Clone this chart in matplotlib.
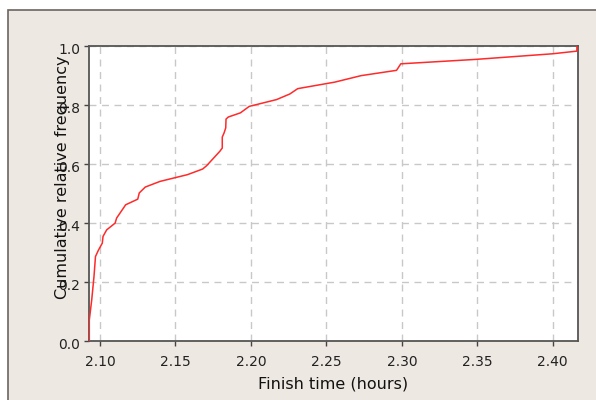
import matplotlib
matplotlib.use("Agg")
import matplotlib.pyplot as plt
from matplotlib.patches import Rectangle
from matplotlib.transforms import ScaledTranslation

# Finish times (hours) and cumulative relative frequency
finish_time = [2.0929, 2.0929, 2.0945, 2.0960, 2.0970, 2.0990, 2.1015, 2.1020,
               2.1044, 2.1100, 2.1110, 2.1170, 2.1250, 2.1260, 2.1300, 2.1397,
               2.1508, 2.1580, 2.1680, 2.1706, 2.1794, 2.1810, 2.1810, 2.1822,
               2.1833, 2.1835, 2.1850, 2.1930, 2.1989, 2.2170, 2.2258, 2.2310,
               2.2555, 2.2730, 2.2965, 2.2993, 2.3490, 2.4000, 2.4160, 2.4160]
cum_freq = [0.000, 0.071, 0.139, 0.218, 0.286, 0.308, 0.331, 0.354,
            0.376, 0.399, 0.416, 0.461, 0.480, 0.501, 0.521, 0.540,
            0.554, 0.563, 0.582, 0.593, 0.642, 0.653, 0.690, 0.704,
            0.721, 0.751, 0.758, 0.772, 0.794, 0.817, 0.836, 0.854,
            0.876, 0.898, 0.916, 0.938, 0.953, 0.972, 0.981, 1.000]

x_ticks = [2.10, 2.15, 2.20, 2.25, 2.30, 2.35, 2.40]
x_tick_labels = ["2.10", "2.15", "2.20", "2.25", "2.30", "2.35", "2.40"]
y_ticks = [0.0, 0.2, 0.4, 0.6, 0.8, 1.0]
y_tick_labels = ["0.0", "0.2", "0.4", "0.6", "0.8", "1.0"]

W, H = 596, 400
fig = plt.figure(figsize=(W / 100, H / 100), dpi=100)
fig.patch.set_facecolor("white")

panel = Rectangle((8 / W, -0.01), 1.01 - 8 / W, 1.01 - 10 / H, transform=fig.transFigure,
                  facecolor="#EEE8E2", edgecolor="#6b6560", linewidth=1.2)
panel.set_zorder(-10)
fig.add_artist(panel)

ax = fig.add_axes([89 / W, (H - 341) / H, (577.5 - 89) / W, (341 - 45.5) / H])
ax.set_zorder(5)
ax.set_facecolor("white")
ax.plot(finish_time, cum_freq, color="#ff2a2a", linewidth=1.1, zorder=3)

ax.set_xlim(2.0927, 2.4164)
ax.set_ylim(0.0, 1.0)
ax.set_xticks(x_ticks)
ax.set_xticklabels(x_tick_labels)
ax.set_yticks(y_ticks)
ax.set_yticklabels(y_tick_labels)
ax.tick_params(axis="both", direction="out", length=3.5, width=1, color="#444444",
               labelsize=10, labelcolor="#222222")
ax.tick_params(axis="x", pad=6.5)
ax.tick_params(axis="y", pad=2.9)
ax.grid(True, color="#c8c8c8", linestyle=(0, (5, 4)), linewidth=1)
for s in ax.spines.values():
    s.set_color("#555555")
    s.set_linewidth(1.3)

shift = ScaledTranslation(0, -2.5 / 100, fig.dpi_scale_trans)
for lbl in ax.get_yticklabels():
    lbl.set_transform(lbl.get_transform() + shift)

t1 = fig.text(62 / W, 1 - 177 / H, "Cumulative relative frequency", rotation=90,
              ha="center", va="center", fontsize=11.5, color="#111111")
t1.set_zorder(10)
t2 = fig.text(333 / W, 1 - 384 / H, "Finish time (hours)", ha="center", va="center",
              fontsize=11.5, color="#111111")
t2.set_zorder(10)

fig.savefig("out.png", dpi=100)
